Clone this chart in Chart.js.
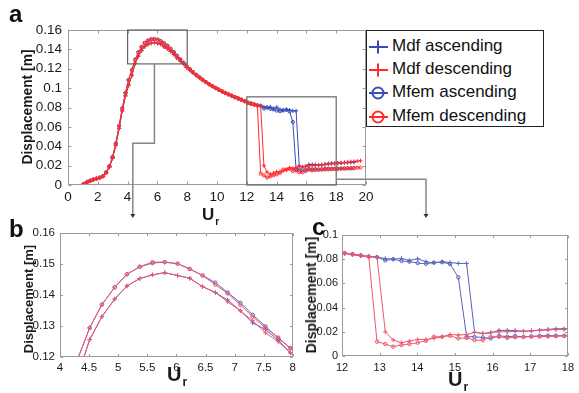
<!DOCTYPE html>
<html>
<head>
<meta charset="utf-8">
<script src="https://cdn.jsdelivr.net/npm/chart.js@4.4.1/dist/chart.umd.min.js"></script>
<style>
  html, body { margin: 0; padding: 0; background: #fff; }
  body { width: 579px; height: 393px; position: relative; overflow: hidden;
         font-family: "Liberation Sans", Arial, sans-serif; color: #111; }
  canvas { position: absolute; }
  .letter { position: absolute; font-weight: bold; font-size: 24px; line-height: 1; }
  .ytitle { position: absolute; font-weight: bold; white-space: nowrap; line-height: 1;
            transform: translate(-50%, -50%) rotate(-90deg); color: #1a1a1a; }
  .xtitle { position: absolute; font-weight: bold; line-height: 1; white-space: nowrap; color: #1a1a1a; }
  .xtitle span { font-size: 0.6em; position: relative; top: 0.45em; margin-left: 1px; }
  #legend { position: absolute; left: 366px; top: 30px; width: 176px; height: 95px;
            border: 1.5px solid #222; background: #fff; }
  .row { position: absolute; left: 1px; height: 22px; line-height: 22px; font-size: 17px; white-space: nowrap; color: #111; }
  .row svg { position: absolute; left: 0; top: 2px; }
  .row b { position: absolute; left: 24px; font-weight: normal; }
</style>
</head>
<body>
<canvas id="chart-a" width="579" height="232" style="left:0;top:0;width:579px;height:232px"></canvas>
<canvas id="chart-b" width="300" height="173" style="left:0;top:220px;width:300px;height:173px"></canvas>
<canvas id="chart-c" width="279" height="173" style="left:300px;top:220px;width:279px;height:173px"></canvas>

<div class="letter" style="left:9px;top:2px">a</div>
<div class="letter" style="left:9px;top:217px">b</div>
<div class="letter" style="left:312px;top:215px">c</div>

<div class="ytitle" style="left:28px;top:107px;font-size:13.8px">Displacement [m]</div>
<div class="ytitle" style="left:28px;top:299px;font-size:13px">Displacement [m]</div>
<div class="ytitle" style="left:311px;top:295px;font-size:14px">Displacement [m]</div>

<div class="xtitle" style="left:202px;top:206px;font-size:17px">U<span>r</span></div>
<div class="xtitle" style="left:167px;top:364px;font-size:20px">U<span>r</span></div>
<div class="xtitle" style="left:448px;top:369px;font-size:20px">U<span>r</span></div>

<div id="legend"></div>

<script>
// ---- Data ----

const urValues = [
  1.05, 1.27, 1.48, 1.70, 1.91, 2.13, 2.35, 2.56, 2.78, 2.99,
  3.21, 3.43, 3.64, 3.86, 4.07, 4.29, 4.51, 4.72, 4.94, 5.15,
  5.37, 5.59, 5.80, 6.02, 6.23, 6.45, 6.67, 6.88, 7.10, 7.31,
  7.53, 7.75, 7.96, 8.18, 8.39, 8.61, 8.83, 9.04, 9.26, 9.47,
  9.69, 9.91, 10.12, 10.34, 10.55, 10.77, 10.99, 11.20, 11.42, 11.63,
  11.85, 12.07, 12.28, 12.50, 12.71, 12.93, 13.15, 13.36, 13.58, 13.79,
  14.01, 14.23, 14.44, 14.66, 14.87, 15.09, 15.31, 15.52, 15.74, 15.95,
  16.17, 16.39, 16.60, 16.82, 17.03, 17.25, 17.47, 17.68, 17.90, 18.11,
  18.33, 18.55, 18.76, 18.98, 19.19, 19.41, 19.63
];

const mdfAscending = [
  0.0010, 0.0035, 0.0048, 0.0058, 0.0066, 0.0076, 0.0092, 0.0125, 0.0185, 0.0275,
  0.0410, 0.0585, 0.0765, 0.0920, 0.1030, 0.1132, 0.1256, 0.1330, 0.1387, 0.1429,
  0.1453, 0.1465, 0.1472, 0.1463, 0.1454, 0.1427, 0.1408, 0.1384, 0.1349, 0.1310,
  0.1289, 0.1254, 0.1213, 0.1185, 0.1158, 0.1132, 0.1107, 0.1083, 0.1061, 0.1040,
  0.1020, 0.1001, 0.0983, 0.0966, 0.0950, 0.0935, 0.0921, 0.0907, 0.0893, 0.0880,
  0.0865, 0.0848, 0.0840, 0.0830, 0.0822, 0.0817, 0.0806, 0.0800, 0.0806, 0.0790,
  0.0803, 0.0780, 0.0770, 0.0780, 0.0773, 0.0765, 0.0765, 0.0197, 0.0186, 0.0192,
  0.0212, 0.0212, 0.0210, 0.0205, 0.0208, 0.0214, 0.0220, 0.0225, 0.0225, 0.0226,
  0.0228, 0.0230, 0.0230, 0.0232, 0.0234
];

const mdfDescending = [
  0.0010, 0.0030, 0.0045, 0.0055, 0.0065, 0.0075, 0.0090, 0.0125, 0.0185, 0.0275,
  0.0410, 0.0585, 0.0765, 0.0920, 0.1030, 0.1132, 0.1256, 0.1330, 0.1387, 0.1429,
  0.1453, 0.1465, 0.1472, 0.1463, 0.1454, 0.1427, 0.1408, 0.1378, 0.1349, 0.1317,
  0.1278, 0.1249, 0.1213, 0.1184, 0.1157, 0.1131, 0.1107, 0.1083, 0.1061, 0.1040,
  0.1020, 0.1001, 0.0983, 0.0966, 0.0950, 0.0935, 0.0921, 0.0907, 0.0893, 0.0880,
  0.0865, 0.0848, 0.0838, 0.0828, 0.0820, 0.0815, 0.0200, 0.0132, 0.0110, 0.0123,
  0.0137, 0.0137, 0.0145, 0.0159, 0.0178, 0.0173, 0.0178, 0.0195, 0.0186, 0.0195,
  0.0200, 0.0200, 0.0203, 0.0205, 0.0207, 0.0212, 0.0215, 0.0218, 0.0220, 0.0224,
  0.0228, 0.0232, 0.0236, 0.0240, 0.0243, 0.0246, 0.0250
];

const mfemAscending = [
  0.0010, 0.0028, 0.0042, 0.0056, 0.0066, 0.0076, 0.0092, 0.0130, 0.0195, 0.0290,
  0.0430, 0.0610, 0.0790, 0.0950, 0.1085, 0.1187, 0.1294, 0.1369, 0.1425, 0.1467,
  0.1491, 0.1503, 0.1506, 0.1501, 0.1484, 0.1463, 0.1440, 0.1408, 0.1375, 0.1336,
  0.1299, 0.1260, 0.1229, 0.1196, 0.1166, 0.1138, 0.1111, 0.1087, 0.1063, 0.1041,
  0.1021, 0.1002, 0.0984, 0.0967, 0.0951, 0.0936, 0.0921, 0.0907, 0.0894, 0.0881,
  0.0866, 0.0850, 0.0842, 0.0832, 0.0822, 0.0817, 0.0790, 0.0800, 0.0785, 0.0780,
  0.0768, 0.0762, 0.0772, 0.0775, 0.0760, 0.0650, 0.0160, 0.0158, 0.0153, 0.0145,
  0.0167, 0.0160, 0.0164, 0.0159, 0.0162, 0.0167, 0.0168, 0.0168, 0.0167, 0.0168,
  0.0170, 0.0171, 0.0172, 0.0172, 0.0173
];

const mfemDescending = [
  0.0010, 0.0025, 0.0040, 0.0055, 0.0065, 0.0075, 0.0090, 0.0130, 0.0195, 0.0290,
  0.0430, 0.0610, 0.0790, 0.0950, 0.1085, 0.1187, 0.1294, 0.1369, 0.1425, 0.1467,
  0.1491, 0.1506, 0.1506, 0.1501, 0.1484, 0.1463, 0.1433, 0.1405, 0.1368, 0.1330,
  0.1294, 0.1263, 0.1227, 0.1195, 0.1165, 0.1137, 0.1110, 0.1086, 0.1062, 0.1041,
  0.1021, 0.1002, 0.0984, 0.0967, 0.0951, 0.0936, 0.0921, 0.0907, 0.0894, 0.0881,
  0.0866, 0.0850, 0.0838, 0.0830, 0.0821, 0.0118, 0.0099, 0.0077, 0.0090, 0.0099,
  0.0110, 0.0126, 0.0159, 0.0159, 0.0167, 0.0145, 0.0150, 0.0131, 0.0131, 0.0159,
  0.0159, 0.0150, 0.0155, 0.0158, 0.0160, 0.0160, 0.0162, 0.0163, 0.0165, 0.0167,
  0.0168, 0.0170, 0.0172, 0.0174, 0.0176, 0.0178, 0.0180
];

const legendLabels = ['Mdf ascending', 'Mdf descending', 'Mfem ascending', 'Mfem descending'];

// zoom windows marked on panel a: [xFrom, xTo, yFrom, yTo]
const zoomBoxB = [4, 8, 0.125, 0.16];
const zoomBoxC = [12, 18, 0, 0.091];

// ---- Styling ----

Chart.defaults.font.family = '"Liberation Sans", Arial, sans-serif';
Chart.defaults.color = '#1a1a1a';
Chart.defaults.animation = false;

const BLUE_A = '#3a4cb4', RED_A = '#ff2b2b';
const BLUE_BC = '#5863bf', RED_BC = '#f0566c';

const fmt = v => String(+(+v).toFixed(3));

function seriesSet(label, ys, color, style, r) {
  return {
    label,
    data: ys.map((y, k) => ({ x: urValues[k], y })),
    showLine: true,
    borderColor: color,
    borderWidth: 1,
    backgroundColor: 'rgba(0,0,0,0)',
    pointStyle: style,
    pointRadius: r,
    pointHoverRadius: r,
    pointBorderColor: color,
    pointBorderWidth: 1,
    pointBackgroundColor: 'rgba(0,0,0,0)'
  };
}

// red series painted over blue (dataset 0 is drawn last)
function allSets(blue, red, r) {
  return [
    seriesSet(legendLabels[3], mfemDescending, red, 'circle', r),
    seriesSet(legendLabels[1], mdfDescending, red, 'cross', r + 0.5),
    seriesSet(legendLabels[2], mfemAscending, blue, 'circle', r),
    seriesSet(legendLabels[0], mdfAscending, blue, 'cross', r + 0.5)
  ];
}

// MATLAB-like box with inward ticks on all four sides
const boxTicks = {
  id: 'boxTicks',
  afterDraw(chart, args, o) {
    const { ctx, chartArea: a, scales: { x, y } } = chart;
    const L = Math.round(a.left) + 0.5, R = Math.round(a.right) - 0.5;
    const T = Math.round(a.top) + 0.5, B = Math.round(a.bottom) - 0.5;
    ctx.save();
    ctx.strokeStyle = o.color;
    ctx.lineWidth = 1;
    ctx.beginPath();
    x.ticks.forEach(t => {
      const p = Math.round(x.getPixelForValue(t.value)) + 0.5;
      ctx.moveTo(p, B); ctx.lineTo(p, B - o.len);
      ctx.moveTo(p, T); ctx.lineTo(p, T + o.len);
    });
    y.ticks.forEach(t => {
      const p = Math.round(y.getPixelForValue(t.value)) + 0.5;
      ctx.moveTo(L, p); ctx.lineTo(L + o.len, p);
      ctx.moveTo(R, p); ctx.lineTo(R - o.len, p);
    });
    ctx.stroke();
    ctx.strokeRect(L, T, R - L, B - T);
    ctx.restore();
  }
};

// zoom rectangles + connector arrows on panel a
const zoomGuides = {
  id: 'zoomGuides',
  afterDraw(chart) {
    const { ctx, scales: { x, y } } = chart;
    const px = v => x.getPixelForValue(v), py = v => y.getPixelForValue(v);
    ctx.save();
    ctx.strokeStyle = '#666';
    ctx.lineWidth = 1.2;
    [zoomBoxB, zoomBoxC].forEach(([x0, x1, y0, y1]) => {
      ctx.strokeRect(px(x0), py(y1), px(x1) - px(x0), py(y0) - py(y1));
    });

    ctx.strokeStyle = '#858585';
    ctx.lineWidth = 1.5;
    const endY = 215;
    ctx.beginPath();
    ctx.moveTo(px(5.8), py(zoomBoxB[2]));
    ctx.lineTo(px(5.8), py(0.043));
    ctx.lineTo(px(4.35), py(0.043));
    ctx.lineTo(px(4.35), endY);
    ctx.moveTo(px(zoomBoxC[1]), py(0.006));
    ctx.lineTo(426, py(0.006));
    ctx.lineTo(426, endY);
    ctx.stroke();

    ctx.fillStyle = '#333';
    [px(4.35), 426].forEach(ax => {
      ctx.beginPath();
      ctx.moveTo(ax - 2.5, endY - 1);
      ctx.lineTo(ax + 2.5, endY - 1);
      ctx.lineTo(ax, endY + 3);
      ctx.closePath();
      ctx.fill();
    });
    ctx.restore();
  }
};

function makeChart(id, cfg, extraPlugins) {
  return new Chart(document.getElementById(id), {
    type: 'scatter',
    data: { datasets: allSets(cfg.blue, cfg.red, cfg.r) },
    plugins: [boxTicks].concat(extraPlugins || []),
    options: {
      responsive: false,
      events: [],
      layout: { autoPadding: false, padding: cfg.pad },
      plugins: {
        legend: { display: false },
        tooltip: { enabled: false },
        boxTicks: { color: '#9a9a9a', len: cfg.tick }
      },
      scales: {
        x: {
          type: 'linear', min: cfg.x[0], max: cfg.x[1],
          afterFit: s => { s.height = cfg.xh; },
          grid: { display: false, drawTicks: false },
          border: { display: false },
          ticks: { stepSize: cfg.x[2], padding: cfg.xpad, font: { size: cfg.font },
                   maxRotation: 0, autoSkip: false, callback: fmt }
        },
        y: {
          type: 'linear', min: cfg.y[0], max: cfg.y[1],
          afterFit: s => { s.width = cfg.yw; },
          grid: { display: false, drawTicks: false },
          border: { display: false },
          ticks: { stepSize: cfg.y[2], padding: cfg.ypad, font: { size: cfg.font },
                   autoSkip: false, callback: fmt }
        }
      }
    }
  });
}

makeChart('chart-a', {
  blue: BLUE_A, red: RED_A, r: 1.6,
  x: [0, 20, 2], y: [0, 0.16, 0.02],
  pad: { left: 0, top: 30, right: 213, bottom: 0 },
  yw: 68, xh: 47, xpad: 4, ypad: 6, font: 13.5, tick: 3
}, [zoomGuides]);

makeChart('chart-b', {
  blue: BLUE_BC, red: RED_BC, r: 1.7,
  x: [4, 8, 0.5], y: [0.12, 0.16, 0.01],
  pad: { left: 0, top: 13, right: 4, bottom: 0 },
  yw: 60, xh: 36, xpad: 4, ypad: 5, font: 11.5, tick: 2.5
});

makeChart('chart-c', {
  blue: BLUE_BC, red: RED_BC, r: 1.7,
  x: [12, 18, 1], y: [0, 0.1, 0.02],
  pad: { left: 0, top: 15, right: 6, bottom: 0 },
  yw: 42, xh: 37, xpad: 5, ypad: 4, font: 11, tick: 2.5
});

// ---- Legend (panel a) ----

const legendStyles = [
  { color: BLUE_A, marker: 'plus' },
  { color: RED_A, marker: 'plus' },
  { color: BLUE_A, marker: 'circle' },
  { color: RED_A, marker: 'circle' }
];
const legendRowsTop = [4, 27, 50, 74];

const legendEl = document.getElementById('legend');
legendLabels.forEach((name, i) => {
  const st = legendStyles[i];
  const mark = st.marker === 'plus'
    ? `<line x1="10" y1="3.5" x2="10" y2="16.5" stroke="${st.color}" stroke-width="2"/>`
    : `<circle cx="10" cy="10" r="5.5" fill="none" stroke="${st.color}" stroke-width="2"/>`;
  const row = document.createElement('div');
  row.className = 'row';
  row.style.top = legendRowsTop[i] + 'px';
  row.innerHTML = `<svg width="22" height="20" viewBox="0 0 22 20">
      <line x1="1" y1="10" x2="20" y2="10" stroke="${st.color}" stroke-width="2"/>${mark}</svg>
    <b>${name}</b>`;
  legendEl.appendChild(row);
});
</script>
</body>
</html>
